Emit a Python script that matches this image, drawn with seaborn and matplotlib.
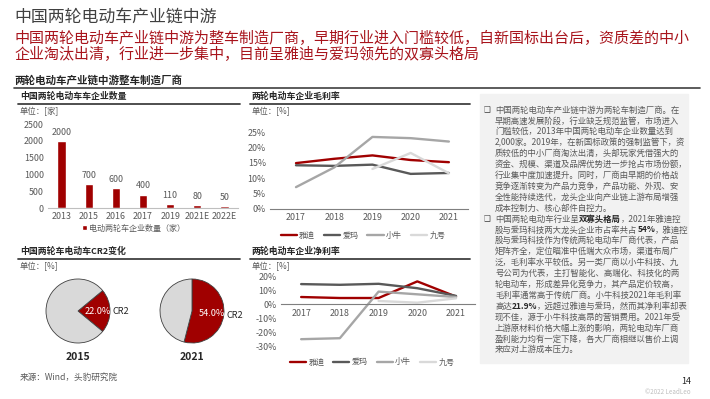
import numpy as np
import pandas as pd
import matplotlib
matplotlib.use('Agg')
import matplotlib.pyplot as plt
import seaborn as sns

sns.set_style('white')
plt.rcParams['font.family'] = ['Noto Sans CJK SC', 'DejaVu Sans']
plt.rcParams['axes.unicode_minus'] = False

# %% dados
anos_barra = ['2013', '2015', '2016', '2017', '2019', '2021E', '2022E']
num_empresas = [2000, 700, 600, 400, 110, 80, 50]

anos_linha = [2017, 2018, 2019, 2020, 2021]
marcas = ['雅迪', '爱玛', '小牛', '九号']
margem_bruta = {
    '雅迪': [14.9, 16.3, 17.4, 15.9, 15.2],
    '爱玛': [14.2, 14.0, 14.4, 11.4, 11.7],
    '小牛': [7.1, 13.5, 23.4, 23.0, 21.9],
    '九号': [np.nan, np.nan, 13.0, 18.2, 11.6],
}
margem_liquida = {
    '雅迪': [5.2, 4.5, 4.5, 16.2, 5.5],
    '爱玛': [14.3, 13.8, 14.5, 11.4, 6.0],
    '小牛': [-24.5, -23.8, 9.0, 7.1, 5.2],
    '九号': [np.nan, np.nan, 2.4, 1.2, 4.3],
}
cr2_anos = ['2015', '2021']
cr2_valores = [22.0, 54.0]

VERMELHO = '#A00000'
CINZA_TXT = '#595959'
cores = {'雅迪': VERMELHO, '爱玛': '#595959', '小牛': '#A6A6A6', '九号': '#D9D9D9'}
TICK = 6.4

W, H = 710, 399
fig = plt.figure(figsize=(W / 100, H / 100), dpi=100)

# fundo em coordenadas de pixel
bg = fig.add_axes([0, 0, 1, 1])
bg.set_xlim(0, W)
bg.set_ylim(H, 0)
bg.axis('off')


def px_axes(l, t, r, b):
    return fig.add_axes([l / W, 1 - b / H, (r - l) / W, (b - t) / H])


def texto(x, y, s, **kw):
    kw.setdefault('va', 'center')
    kw.setdefault('ha', 'left')
    return bg.text(x, y, s, **kw)


# %% titulos
texto(14, 17, '中国两轮电动车产业链中游', fontsize=12.2, color='#404040')
texto(14, 38, '中国两轮电动车产业链中游为整车制造厂商，早期行业进入门槛较低，自新国标出台后，资质差的中小',
      fontsize=10.8, color='#A8141C')
texto(14, 55, '企业淘汰出清，行业进一步集中，目前呈雅迪与爱玛领先的双寡头格局',
      fontsize=10.8, color='#A8141C')
texto(14, 80, '两轮电动车产业链中游整车制造厂商', fontsize=7.6, fontweight='bold', color='#262626')
bg.plot([14, 700], [88, 88], color='#404040', lw=1.2)

for x0, x1, y, tit, un in [(18, 240, 96, '中国两轮电动车车企业数量', '单位：[家]'),
                           (250, 470, 96, '两轮电动车企业毛利率', '单位：[%]'),
                           (18, 240, 251, '中国两轮车电动车CR2变化', '单位：[%]'),
                           (250, 470, 251, '两轮电动车企业净利率', '单位：[%]')]:
    texto(x0 + 2, y, tit, fontsize=6.4, fontweight='bold', color='#262626')
    bg.plot([x0, x1], [y + 7.5, y + 7.5], color='#404040', lw=1.3)
    texto(x0 + 2, y + 16, un, fontsize=6, color=CINZA_TXT)

texto(20, 377, '来源：Wind，头豹研究院', fontsize=6.2, color=CINZA_TXT)
texto(686, 381, '14', fontsize=6.5, color='#262626', ha='center')
texto(668, 392, '©2022 LeadLeo', fontsize=4.5, color='#BFBFBF', ha='center')

# %% grafico de barras
ax1 = px_axes(48, 124, 238, 208)
df_bar = pd.DataFrame({'ano': anos_barra, 'empresas': num_empresas})
sns.barplot(data=df_bar, x='ano', y='empresas', color=VERMELHO, width=0.3,
            saturation=1, ax=ax1, label='电动两轮车企业数量（家）')
ax1.set_ylim(0, 2500)
ax1.set_yticks(range(0, 2501, 500))
ax1.set_xlabel('')
ax1.set_ylabel('')
for bar, v in zip(ax1.patches, num_empresas):
    ax1.annotate(f'{v}', xy=(bar.get_x() + bar.get_width() / 2, bar.get_height()),
                 xytext=(0, 3), textcoords='offset points', ha='center', va='bottom',
                 fontsize=TICK, color=CINZA_TXT)
sns.despine(ax=ax1, left=True)
ax1.spines['bottom'].set_color('#BFBFBF')
ax1.tick_params(length=0, labelsize=TICK, colors=CINZA_TXT, pad=3)
ax1.legend(loc='center', bbox_to_anchor=(0.45, -0.24), frameon=False, fontsize=5.8,
           handlelength=0.6, handleheight=0.6, handletextpad=0.3, labelcolor=CINZA_TXT)


# %% graficos de linha
def grafico_linha(ax, dados, ylim, passo, xlim, leg_y):
    df = pd.DataFrame([(m, a, v) for m in marcas for a, v in zip(anos_linha, dados[m])],
                      columns=['marca', 'ano', 'valor']).dropna()
    sns.lineplot(data=df, x='ano', y='valor', hue='marca', hue_order=marcas,
                 palette=cores, linewidth=1.7, ax=ax)
    ax.set_ylim(*ylim)
    ax.set_yticks(range(ylim[0], ylim[1] + 1, passo))
    ax.set_yticklabels([f'{t}%' for t in range(ylim[0], ylim[1] + 1, passo)])
    ax.set_xticks(anos_linha)
    ax.set_xlim(*xlim)
    ax.set_xlabel('')
    ax.set_ylabel('')
    sns.despine(ax=ax, left=True)
    ax.spines['bottom'].set_color('#7F7F7F')
    ax.tick_params(length=0, labelsize=TICK, colors=CINZA_TXT, pad=3)
    sns.move_legend(ax, 'center', bbox_to_anchor=(0.47, leg_y), ncol=4, frameon=False,
                    title=None, fontsize=5.8, handlelength=2.0, handletextpad=0.3,
                    columnspacing=1.1, labelcolor=CINZA_TXT)


ax2 = px_axes(270, 132, 468, 209)
grafico_linha(ax2, margem_bruta, (0, 25), 5, (2017 - 0.68, 2021.5), -0.34)

ax3 = px_axes(281, 276, 475, 347)
grafico_linha(ax3, margem_liquida, (-30, 20), 10, (2017 - 0.52, 2021.49), -0.21)
ax3.spines['bottom'].set_position(('data', 0))

# %% pizzas CR2
centros = [(78, 311), (192, 311)]
inicio = [-cr2_valores[0] * 1.8, 90]
sentido = [True, False]
raio = 32
for (cx, cy), ano, v, ini, sen in zip(centros, cr2_anos, cr2_valores, inicio, sentido):
    axp = px_axes(cx - raio * 1.05, cy - raio * 1.05, cx + raio * 1.05, cy + raio * 1.05)
    wedges, labels = axp.pie([v, 100 - v], colors=[VERMELHO, '#D9D9D9'],
                             labels=['CR2', ''], startangle=ini, counterclock=sen,
                             labeldistance=1.08,
                             wedgeprops=dict(edgecolor='#404040', linewidth=0.6),
                             textprops=dict(fontsize=6.6, color='#262626'))
    # rotulo percentual dentro da fatia vermelha
    w = wedges[0]
    ang = np.deg2rad((w.theta1 + w.theta2) / 2)
    axp.text(0.62 * np.cos(ang), 0.62 * np.sin(ang), f'{v:.1f}%', color='white',
             fontsize=6.6, ha='center', va='center')
    axp.set_xlim(-1.05, 1.05)
    axp.set_ylim(-1.05, 1.05)
    texto(cx, 357, ano, fontsize=7.5, fontweight='bold', color='#262626', ha='center')

# %% painel de texto
bg.add_patch(plt.Rectangle((480, 94), 208, 269, color='#F2F2F2', zorder=0))

linhas = [
    ('❑', [('中国两轮电动车产业链中游为两轮车制造厂商。在', False)]),
    ('', [('早期高速发展阶段，行业缺乏规范监管，市场进入', False)]),
    ('', [('门槛较低，2013年中国两轮电动车企业数量达到', False)]),
    ('', [('2,000家。2019年，在新国标政策的强制监管下，资', False)]),
    ('', [('质较低的中小厂商淘汰出清，头部玩家凭借强大的', False)]),
    ('', [('资金、规模、渠道及品牌优势进一步抢占市场份额，', False)]),
    ('', [('行业集中度加速提升。同时，厂商由早期的价格战', False)]),
    ('', [('竞争逐渐转变为产品力竞争，产品功能、外观、安', False)]),
    ('', [('全性能持续迭代，龙头企业向产业链上游布局增强', False)]),
    ('', [('成本控制力、核心部件自控力。', False)]),
    ('❑', [('中国两轮电动车行业呈', False), ('双寡头格局', True), ('，2021年雅迪控', False)]),
    ('', [('股与爱玛科技两大龙头企业市占率共占', False), ('54%', True), ('，雅迪控', False)]),
    ('', [('股与爱玛科技作为传统两轮电动车厂商代表，产品', False)]),
    ('', [('矩阵齐全，定位瞄准中低端大众市场，渠道布局广', False)]),
    ('', [('泛，毛利率水平较低。另一类厂商以小牛科技、九', False)]),
    ('', [('号公司为代表，主打智能化、高端化、科技化的两', False)]),
    ('', [('轮电动车，形成差异化竞争力，其产品定价较高，', False)]),
    ('', [('毛利率通常高于传统厂商。小牛科技2021年毛利率', False)]),
    ('', [('高达', False), ('21.9%', True), ('，远超过雅迪与爱玛，然而其净利率却表', False)]),
    ('', [('现不佳，源于小牛科技高昂的营销费用。2021年受', False)]),
    ('', [('上游原材料价格大幅上涨的影响，两轮电动车厂商', False)]),
    ('', [('盈利能力均有一定下降，各大厂商相继以售价上调', False)]),
    ('', [('来应对上游成本压力。', False)]),
]
y0, dy = 110, 10.9
for i, (marca, partes) in enumerate(linhas):
    y = y0 + i * dy
    if marca:
        texto(484, y, marca, fontsize=5.5, color='#404040')
    ant = None
    for s, negrito in partes:
        peso = 'bold' if negrito else 'normal'
        if ant is None:
            ant = texto(495, y, s, fontsize=6.05, color=CINZA_TXT, fontweight=peso)
        else:
            ant = bg.annotate(s, xy=(1, 0.5), xycoords=ant, ha='left', va='center',
                              fontsize=6.05, color='#262626' if negrito else CINZA_TXT,
                              fontweight=peso)

fig.savefig('out.png', dpi=100)
